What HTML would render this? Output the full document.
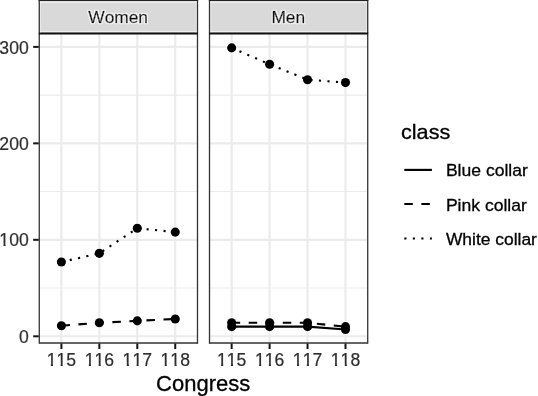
<!DOCTYPE html>
<html><head><meta charset="utf-8"><title>Congress class chart</title>
<style>html,body{margin:0;padding:0;background:#fff;}body{width:538px;height:396px;overflow:hidden;}svg{display:block;font-family:"Liberation Sans",Arial,Helvetica,sans-serif;}text{font-kerning:none;}</style></head><body>
<svg width="538" height="396" viewBox="0 0 538 396">
<rect width="538" height="396" fill="#fff"/>
<defs>
<clipPath id="p1"><rect x="39.27" y="33.5" width="158.23" height="309.50"/></clipPath>
<clipPath id="p2"><rect x="209.5" y="33.5" width="158.22" height="309.50"/></clipPath>
<filter id="halo" x="-5%" y="-30%" width="110%" height="160%"><feMorphology in="SourceAlpha" operator="dilate" radius="0.8" result="d"/><feGaussianBlur in="d" stdDeviation="0.45" result="b"/><feFlood flood-color="#fff" flood-opacity="0.75"/><feComposite in2="b" operator="in" result="h"/><feMerge><feMergeNode in="h"/><feMergeNode in="SourceGraphic"/></feMerge></filter>
</defs>
<rect x="39.27" y="0" width="158.23" height="33.5" fill="#D9D9D9"/>
<text transform="translate(118.14 23.2) scale(1.0 1)" filter="url(#halo)" font-size="17.35" fill="#0a0a0a" stroke="#0a0a0a" stroke-width="0.45" text-anchor="middle">Women</text>
<g clip-path="url(#p1)">
<line x1="39.27" x2="197.5" y1="288.06" y2="288.06" stroke="#EBEBEB" stroke-width="1.065"/>
<line x1="39.27" x2="197.5" y1="191.59" y2="191.59" stroke="#EBEBEB" stroke-width="1.065"/>
<line x1="39.27" x2="197.5" y1="95.12" y2="95.12" stroke="#EBEBEB" stroke-width="1.065"/>
<line x1="39.27" x2="197.5" y1="336.30" y2="336.30" stroke="#EBEBEB" stroke-width="2.13"/>
<line x1="39.27" x2="197.5" y1="239.83" y2="239.83" stroke="#EBEBEB" stroke-width="2.13"/>
<line x1="39.27" x2="197.5" y1="143.36" y2="143.36" stroke="#EBEBEB" stroke-width="2.13"/>
<line x1="39.27" x2="197.5" y1="46.89" y2="46.89" stroke="#EBEBEB" stroke-width="2.13"/>
<line x1="61.40" x2="61.40" y1="33.5" y2="343.0" stroke="#EBEBEB" stroke-width="2.13"/>
<line x1="99.35" x2="99.35" y1="33.5" y2="343.0" stroke="#EBEBEB" stroke-width="2.13"/>
<line x1="137.30" x2="137.30" y1="33.5" y2="343.0" stroke="#EBEBEB" stroke-width="2.13"/>
<line x1="175.25" x2="175.25" y1="33.5" y2="343.0" stroke="#EBEBEB" stroke-width="2.13"/>
<circle cx="61.40" cy="325.69" r="5.5" fill="#fff" fill-opacity="0.85"/>
<circle cx="99.35" cy="322.79" r="5.5" fill="#fff" fill-opacity="0.85"/>
<circle cx="137.30" cy="320.86" r="5.5" fill="#fff" fill-opacity="0.85"/>
<circle cx="175.25" cy="318.94" r="5.5" fill="#fff" fill-opacity="0.85"/>
<circle cx="61.40" cy="262.02" r="5.5" fill="#fff" fill-opacity="0.85"/>
<circle cx="99.35" cy="253.34" r="5.5" fill="#fff" fill-opacity="0.85"/>
<circle cx="137.30" cy="228.25" r="5.5" fill="#fff" fill-opacity="0.85"/>
<circle cx="175.25" cy="232.11" r="5.5" fill="#fff" fill-opacity="0.85"/>
<polyline points="61.40,325.69 99.35,322.79 137.30,320.86 175.25,318.94" fill="none" stroke="#000" stroke-width="2.13" stroke-dasharray="8.52 8.52"/>
<polyline points="61.40,262.02 99.35,253.34 137.30,228.25 175.25,232.11" fill="none" stroke="#000" stroke-width="2.13" stroke-dasharray="2.13 6.39"/>
<circle cx="61.40" cy="325.69" r="4.55" fill="#000"/>
<circle cx="99.35" cy="322.79" r="4.55" fill="#000"/>
<circle cx="137.30" cy="320.86" r="4.55" fill="#000"/>
<circle cx="175.25" cy="318.94" r="4.55" fill="#000"/>
<circle cx="61.40" cy="262.02" r="4.55" fill="#000"/>
<circle cx="99.35" cy="253.34" r="4.55" fill="#000"/>
<circle cx="137.30" cy="228.25" r="4.55" fill="#000"/>
<circle cx="175.25" cy="232.11" r="4.55" fill="#000"/>
</g>
<g stroke="#333" stroke-width="1.3" fill="none">
<line x1="39.27" x2="39.27" y1="0" y2="343.65"/>
<line x1="197.5" x2="197.5" y1="0" y2="343.65"/>
<line x1="39.27" x2="197.5" y1="343.0" y2="343.0" stroke-width="1.35"/>
<line x1="38.620000000000005" x2="198.15" y1="0.5" y2="0.5" stroke="#222" stroke-width="1"/>
<line x1="38.82000000000001" x2="197.95000000000002" y1="33.5" y2="33.5" stroke="#111" stroke-width="1.9"/>
<line x1="40.07" x2="196.7" y1="2.5" y2="2.5" stroke="#fff" stroke-opacity="0.5" stroke-width="1"/>
<line x1="40.07" x2="196.7" y1="1.5" y2="1.5" stroke="#fff" stroke-opacity="0.2" stroke-width="1"/>
<line x1="40.07" x2="196.7" y1="31.50" y2="31.50" stroke="#fff" stroke-opacity="0.6" stroke-width="1"/>
<line x1="40.57" x2="40.57" y1="1.2" y2="32.60" stroke="#fff" stroke-opacity="0.45" stroke-width="0.9"/>
<line x1="196.2" x2="196.2" y1="1.2" y2="32.60" stroke="#fff" stroke-opacity="0.45" stroke-width="0.9"/>
</g>
<line x1="61.40" x2="61.40" y1="343.5" y2="349.0" stroke="#151515" stroke-width="2.0"/>
<text x="61.40" y="365.9" font-size="17.6" fill="#2e2e2e" stroke="#2e2e2e" stroke-width="0.2" text-anchor="middle">115</text>
<rect x="46.81" y="363.79" width="4.04" height="4.11" fill="#fff"/>
<rect x="53.00" y="363.79" width="3.90" height="4.11" fill="#fff"/>
<rect x="56.60" y="363.79" width="4.04" height="4.11" fill="#fff"/>
<rect x="62.79" y="363.79" width="3.90" height="4.11" fill="#fff"/>
<line x1="99.35" x2="99.35" y1="343.5" y2="349.0" stroke="#151515" stroke-width="2.0"/>
<text x="99.35" y="365.9" font-size="17.6" fill="#2e2e2e" stroke="#2e2e2e" stroke-width="0.2" text-anchor="middle">116</text>
<rect x="84.76" y="363.79" width="4.04" height="4.11" fill="#fff"/>
<rect x="90.95" y="363.79" width="3.90" height="4.11" fill="#fff"/>
<rect x="94.55" y="363.79" width="4.04" height="4.11" fill="#fff"/>
<rect x="100.74" y="363.79" width="3.90" height="4.11" fill="#fff"/>
<line x1="137.30" x2="137.30" y1="343.5" y2="349.0" stroke="#151515" stroke-width="2.0"/>
<text x="137.30" y="365.9" font-size="17.6" fill="#2e2e2e" stroke="#2e2e2e" stroke-width="0.2" text-anchor="middle">117</text>
<rect x="122.71" y="363.79" width="4.04" height="4.11" fill="#fff"/>
<rect x="128.90" y="363.79" width="3.90" height="4.11" fill="#fff"/>
<rect x="132.50" y="363.79" width="4.04" height="4.11" fill="#fff"/>
<rect x="138.69" y="363.79" width="3.90" height="4.11" fill="#fff"/>
<line x1="175.25" x2="175.25" y1="343.5" y2="349.0" stroke="#151515" stroke-width="2.0"/>
<text x="175.25" y="365.9" font-size="17.6" fill="#2e2e2e" stroke="#2e2e2e" stroke-width="0.2" text-anchor="middle">118</text>
<rect x="160.66" y="363.79" width="4.04" height="4.11" fill="#fff"/>
<rect x="166.85" y="363.79" width="3.90" height="4.11" fill="#fff"/>
<rect x="170.45" y="363.79" width="4.04" height="4.11" fill="#fff"/>
<rect x="176.64" y="363.79" width="3.90" height="4.11" fill="#fff"/>
<rect x="209.5" y="0" width="158.22" height="33.5" fill="#D9D9D9"/>
<text transform="translate(288.26 23.2) scale(1.0 1)" filter="url(#halo)" font-size="17.35" fill="#0a0a0a" stroke="#0a0a0a" stroke-width="0.45" text-anchor="middle">Men</text>
<g clip-path="url(#p2)">
<line x1="209.5" x2="367.72" y1="288.06" y2="288.06" stroke="#EBEBEB" stroke-width="1.065"/>
<line x1="209.5" x2="367.72" y1="191.59" y2="191.59" stroke="#EBEBEB" stroke-width="1.065"/>
<line x1="209.5" x2="367.72" y1="95.12" y2="95.12" stroke="#EBEBEB" stroke-width="1.065"/>
<line x1="209.5" x2="367.72" y1="336.30" y2="336.30" stroke="#EBEBEB" stroke-width="2.13"/>
<line x1="209.5" x2="367.72" y1="239.83" y2="239.83" stroke="#EBEBEB" stroke-width="2.13"/>
<line x1="209.5" x2="367.72" y1="143.36" y2="143.36" stroke="#EBEBEB" stroke-width="2.13"/>
<line x1="209.5" x2="367.72" y1="46.89" y2="46.89" stroke="#EBEBEB" stroke-width="2.13"/>
<line x1="231.65" x2="231.65" y1="33.5" y2="343.0" stroke="#EBEBEB" stroke-width="2.13"/>
<line x1="269.60" x2="269.60" y1="33.5" y2="343.0" stroke="#EBEBEB" stroke-width="2.13"/>
<line x1="307.55" x2="307.55" y1="33.5" y2="343.0" stroke="#EBEBEB" stroke-width="2.13"/>
<line x1="345.50" x2="345.50" y1="33.5" y2="343.0" stroke="#EBEBEB" stroke-width="2.13"/>
<circle cx="231.65" cy="326.65" r="5.5" fill="#fff" fill-opacity="0.85"/>
<circle cx="269.60" cy="326.65" r="5.5" fill="#fff" fill-opacity="0.85"/>
<circle cx="307.55" cy="326.65" r="5.5" fill="#fff" fill-opacity="0.85"/>
<circle cx="345.50" cy="329.55" r="5.5" fill="#fff" fill-opacity="0.85"/>
<circle cx="231.65" cy="322.79" r="5.5" fill="#fff" fill-opacity="0.85"/>
<circle cx="269.60" cy="322.79" r="5.5" fill="#fff" fill-opacity="0.85"/>
<circle cx="307.55" cy="322.79" r="5.5" fill="#fff" fill-opacity="0.85"/>
<circle cx="345.50" cy="326.65" r="5.5" fill="#fff" fill-opacity="0.85"/>
<circle cx="231.65" cy="47.85" r="5.5" fill="#fff" fill-opacity="0.85"/>
<circle cx="269.60" cy="64.25" r="5.5" fill="#fff" fill-opacity="0.85"/>
<circle cx="307.55" cy="79.69" r="5.5" fill="#fff" fill-opacity="0.85"/>
<circle cx="345.50" cy="82.58" r="5.5" fill="#fff" fill-opacity="0.85"/>
<polyline points="231.65,326.65 269.60,326.65 307.55,326.65 345.50,329.55" fill="none" stroke="#000" stroke-width="2.13"/>
<polyline points="231.65,322.79 269.60,322.79 307.55,322.79 345.50,326.65" fill="none" stroke="#000" stroke-width="2.13" stroke-dasharray="8.52 8.52"/>
<polyline points="231.65,47.85 269.60,64.25 307.55,79.69 345.50,82.58" fill="none" stroke="#000" stroke-width="2.13" stroke-dasharray="2.13 6.39"/>
<circle cx="231.65" cy="326.65" r="4.55" fill="#000"/>
<circle cx="269.60" cy="326.65" r="4.55" fill="#000"/>
<circle cx="307.55" cy="326.65" r="4.55" fill="#000"/>
<circle cx="345.50" cy="329.55" r="4.55" fill="#000"/>
<circle cx="231.65" cy="322.79" r="4.55" fill="#000"/>
<circle cx="269.60" cy="322.79" r="4.55" fill="#000"/>
<circle cx="307.55" cy="322.79" r="4.55" fill="#000"/>
<circle cx="345.50" cy="326.65" r="4.55" fill="#000"/>
<circle cx="231.65" cy="47.85" r="4.55" fill="#000"/>
<circle cx="269.60" cy="64.25" r="4.55" fill="#000"/>
<circle cx="307.55" cy="79.69" r="4.55" fill="#000"/>
<circle cx="345.50" cy="82.58" r="4.55" fill="#000"/>
</g>
<g stroke="#333" stroke-width="1.3" fill="none">
<line x1="209.5" x2="209.5" y1="0" y2="343.65"/>
<line x1="367.72" x2="367.72" y1="0" y2="343.65"/>
<line x1="209.5" x2="367.72" y1="343.0" y2="343.0" stroke-width="1.35"/>
<line x1="208.85" x2="368.37" y1="0.5" y2="0.5" stroke="#222" stroke-width="1"/>
<line x1="209.04999999999998" x2="368.17" y1="33.5" y2="33.5" stroke="#111" stroke-width="1.9"/>
<line x1="210.3" x2="366.92" y1="2.5" y2="2.5" stroke="#fff" stroke-opacity="0.5" stroke-width="1"/>
<line x1="210.3" x2="366.92" y1="1.5" y2="1.5" stroke="#fff" stroke-opacity="0.2" stroke-width="1"/>
<line x1="210.3" x2="366.92" y1="31.50" y2="31.50" stroke="#fff" stroke-opacity="0.6" stroke-width="1"/>
<line x1="210.8" x2="210.8" y1="1.2" y2="32.60" stroke="#fff" stroke-opacity="0.45" stroke-width="0.9"/>
<line x1="366.42" x2="366.42" y1="1.2" y2="32.60" stroke="#fff" stroke-opacity="0.45" stroke-width="0.9"/>
</g>
<line x1="231.65" x2="231.65" y1="343.5" y2="349.0" stroke="#151515" stroke-width="2.0"/>
<text x="231.65" y="365.9" font-size="17.6" fill="#2e2e2e" stroke="#2e2e2e" stroke-width="0.2" text-anchor="middle">115</text>
<rect x="217.06" y="363.79" width="4.04" height="4.11" fill="#fff"/>
<rect x="223.25" y="363.79" width="3.90" height="4.11" fill="#fff"/>
<rect x="226.85" y="363.79" width="4.04" height="4.11" fill="#fff"/>
<rect x="233.04" y="363.79" width="3.90" height="4.11" fill="#fff"/>
<line x1="269.60" x2="269.60" y1="343.5" y2="349.0" stroke="#151515" stroke-width="2.0"/>
<text x="269.60" y="365.9" font-size="17.6" fill="#2e2e2e" stroke="#2e2e2e" stroke-width="0.2" text-anchor="middle">116</text>
<rect x="255.01" y="363.79" width="4.04" height="4.11" fill="#fff"/>
<rect x="261.20" y="363.79" width="3.90" height="4.11" fill="#fff"/>
<rect x="264.80" y="363.79" width="4.04" height="4.11" fill="#fff"/>
<rect x="270.99" y="363.79" width="3.90" height="4.11" fill="#fff"/>
<line x1="307.55" x2="307.55" y1="343.5" y2="349.0" stroke="#151515" stroke-width="2.0"/>
<text x="307.55" y="365.9" font-size="17.6" fill="#2e2e2e" stroke="#2e2e2e" stroke-width="0.2" text-anchor="middle">117</text>
<rect x="292.96" y="363.79" width="4.04" height="4.11" fill="#fff"/>
<rect x="299.15" y="363.79" width="3.90" height="4.11" fill="#fff"/>
<rect x="302.75" y="363.79" width="4.04" height="4.11" fill="#fff"/>
<rect x="308.94" y="363.79" width="3.90" height="4.11" fill="#fff"/>
<line x1="345.50" x2="345.50" y1="343.5" y2="349.0" stroke="#151515" stroke-width="2.0"/>
<text x="345.50" y="365.9" font-size="17.6" fill="#2e2e2e" stroke="#2e2e2e" stroke-width="0.2" text-anchor="middle">118</text>
<rect x="330.91" y="363.79" width="4.04" height="4.11" fill="#fff"/>
<rect x="337.10" y="363.79" width="3.90" height="4.11" fill="#fff"/>
<rect x="340.70" y="363.79" width="4.04" height="4.11" fill="#fff"/>
<rect x="346.89" y="363.79" width="3.90" height="4.11" fill="#fff"/>
<line x1="33.17" x2="38.77" y1="336.30" y2="336.30" stroke="#151515" stroke-width="2.0"/>
<text x="28.7" y="343.00" font-size="17.6" fill="#2e2e2e" stroke="#2e2e2e" stroke-width="0.2" text-anchor="end">0</text>
<line x1="33.17" x2="38.77" y1="239.83" y2="239.83" stroke="#151515" stroke-width="2.0"/>
<text x="28.7" y="245.60" font-size="17.6" fill="#2e2e2e" stroke="#2e2e2e" stroke-width="0.2" text-anchor="end">100</text>
<rect x="-0.57" y="243.49" width="4.04" height="4.11" fill="#fff"/>
<rect x="5.62" y="243.49" width="3.90" height="4.11" fill="#fff"/>
<line x1="33.17" x2="38.77" y1="143.36" y2="143.36" stroke="#151515" stroke-width="2.0"/>
<text x="28.7" y="149.86" font-size="17.6" fill="#2e2e2e" stroke="#2e2e2e" stroke-width="0.2" text-anchor="end">200</text>
<line x1="33.17" x2="38.77" y1="46.89" y2="46.89" stroke="#151515" stroke-width="2.0"/>
<text x="28.7" y="53.59" font-size="17.6" fill="#2e2e2e" stroke="#2e2e2e" stroke-width="0.2" text-anchor="end">300</text>
<text x="203.2" y="390.5" font-size="22" fill="#000" stroke="#000" stroke-width="0.3" text-anchor="middle">Congress</text>
<text transform="translate(401.0 139.4) scale(1.045 1)" x="0" y="0" font-size="20.7" fill="#000" stroke="#000" stroke-width="0.3">class</text>
<line x1="404.3" x2="431.9" y1="169.90" y2="169.90" stroke="#000" stroke-width="2.13"/>
<text transform="translate(445.9 176.35) scale(1.012 1)" font-size="17.35" fill="#000" stroke="#000" stroke-width="0.3">Blue collar</text>
<line x1="404.3" x2="431.9" y1="204.05" y2="204.05" stroke="#000" stroke-width="2.13" stroke-dasharray="8.52 8.52"/>
<text transform="translate(445.9 210.50) scale(1.012 1)" font-size="17.35" fill="#000" stroke="#000" stroke-width="0.3">Pink collar</text>
<line x1="404.3" x2="431.9" y1="238.55" y2="238.55" stroke="#000" stroke-width="2.13" stroke-dasharray="2.13 6.39"/>
<text transform="translate(445.9 245.10) scale(1.005 1)" font-size="17.35" fill="#000" stroke="#000" stroke-width="0.3">White collar</text>
</svg></body></html>
